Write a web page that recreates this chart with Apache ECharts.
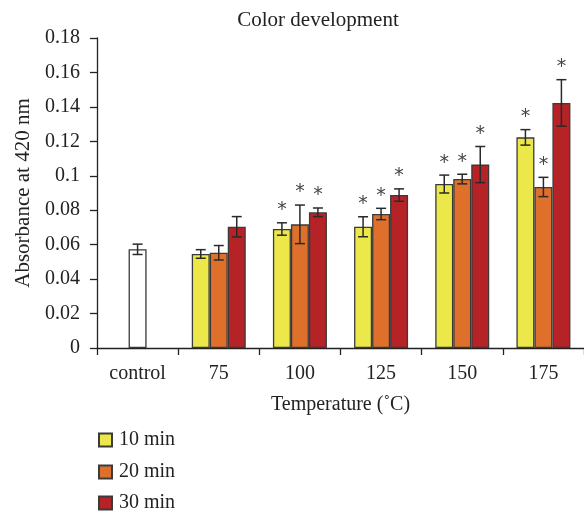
<!DOCTYPE html>
<html>
<head>
<meta charset="utf-8">
<script src="https://cdn.jsdelivr.net/npm/echarts@6/dist/echarts.min.js"></script>
<style>
html,body{margin:0;padding:0;background:#fff;}
#chart{width:584px;height:513px;}
</style>
</head>
<body>
<div id="chart"></div>
<script>
var categories = ['control', '75', '100', '125', '150', '175'];
var seriesNames = ['10 min', '20 min', '30 min'];
// index 0 of the 20-min list holds the control value (drawn white, centred)
var values10 = [null, 0.0546, 0.0691, 0.0704, 0.0952, 0.1223];
var values20 = [0.0573, 0.0553, 0.0718, 0.0778, 0.0981, 0.0935];
var values30 = [null, 0.0704, 0.0788, 0.0888, 0.1065, 0.1423];
var errors10 = [null, 0.0025, 0.0036, 0.0058, 0.0052, 0.0045];
var errors20 = [0.0030, 0.0042, 0.0112, 0.0033, 0.0028, 0.0056];
var errors30 = [null, 0.0059, 0.0025, 0.0036, 0.0105, 0.0135];
var stars10 = [false, false, true, true, true, true];
var stars20 = [false, false, true, true, true, true];
var stars30 = [false, false, true, true, true, true];
var yTicks = [0, 0.02, 0.04, 0.06, 0.08, 0.1, 0.12, 0.14, 0.16, 0.18];

var colors = ['#ECE84A', '#DF702C', '#B52327'];
var FONT = 'Liberation Serif';
var BAR_W = 18;

var allValues = [values10, values20, values30];
var allErrors = [errors10, errors20, errors30];
var allStars = [stars10, stars20, stars30];

var errData = [];
for (var s = 0; s < 3; s++) {
  for (var i = 0; i < categories.length; i++) {
    if (allValues[s][i] != null) {
      errData.push([i, s, allValues[s][i], allErrors[s][i], allStars[s][i] ? 1 : 0]);
    }
  }
}

var barSeries = seriesNames.map(function (name, s) {
  return {
    name: name,
    type: 'bar',
    barWidth: BAR_W,
    barGap: '0%',
    data: allValues[s].map(function (v, i) {
      if (v == null) return '-';
      if (s === 1 && i === 0) return { value: v, itemStyle: { color: '#ffffff' } };
      return v;
    }),
    itemStyle: { color: colors[s], borderColor: '#3a3a3a', borderWidth: 1.3 },
    emphasis: { disabled: true },
    z: 2
  };
});

var errSeries = {
  type: 'custom',
  data: errData,
  z: 5,
  silent: true,
  renderItem: function (params, api) {
    var cat = api.value(0), s = api.value(1), v = api.value(2), e = api.value(3), star = api.value(4);
    var cx = api.coord([cat, 0])[0] + (s - 1) * BAR_W;
    var top = api.coord([cat, v + e])[1];
    var bot = api.coord([cat, v - e])[1];
    var cap = 5;
    var st = { stroke: '#2a2a2a', lineWidth: 1.5 };
    var children = [
      { type: 'line', shape: { x1: cx, y1: top, x2: cx, y2: bot }, style: st },
      { type: 'line', shape: { x1: cx - cap, y1: top, x2: cx + cap, y2: top }, style: st },
      { type: 'line', shape: { x1: cx - cap, y1: bot, x2: cx + cap, y2: bot }, style: st }
    ];
    if (star) {
      children.push({
        type: 'text',
        style: {
          text: '*', x: cx, y: top - 3,
          textAlign: 'center', textVerticalAlign: 'bottom',
          fontFamily: 'DejaVu Sans', fontSize: 19, fill: '#444'
        }
      });
    }
    return { type: 'group', children: children };
  }
};

var legendTops = [430, 462, 493];
var legends = seriesNames.map(function (name, s) {
  return {
    data: [name],
    left: 98, top: legendTops[s],
    padding: 0,
    itemWidth: 13, itemHeight: 13,
    icon: 'rect',
    selectedMode: false,
    textStyle: { fontFamily: FONT, fontSize: 20, color: '#222', padding: [0, 0, 0, 2] }
  };
});

var chart = echarts.init(document.getElementById('chart'), null, { renderer: 'canvas' });
chart.setOption({
  animation: false,
  backgroundColor: '#ffffff',
  graphic: [{
    type: 'text',
    x: 318, y: 20,
    style: {
      text: 'Color development', textAlign: 'center', textVerticalAlign: 'middle',
      fontFamily: FONT, fontSize: 21, fill: '#222'
    }
  }],
  legend: legends,
  grid: { left: 97, top: 38, width: 494, height: 310, containLabel: false },
  xAxis: {
    type: 'category',
    data: categories,
    name: 'Temperature (˚C)',
    nameLocation: 'middle',
    nameGap: 47,
    nameTextStyle: { fontFamily: FONT, fontSize: 20, color: '#222' },
    axisLine: { lineStyle: { color: '#222', width: 1.3 } },
    axisTick: { show: true, length: 7, lineStyle: { color: '#222', width: 1.3 } },
    axisLabel: { fontFamily: FONT, fontSize: 20, color: '#222', margin: 16 },
    splitLine: { show: false }
  },
  yAxis: {
    type: 'value',
    min: 0, max: 0.18, interval: 0.02,
    name: 'Absorbance at 420 nm',
    nameLocation: 'middle',
    nameGap: 60,
    nameTextStyle: { fontFamily: FONT, fontSize: 21, color: '#222' },
    axisLine: { show: true, lineStyle: { color: '#222', width: 1.3 } },
    axisTick: { show: true, length: 7, lineStyle: { color: '#222', width: 1.3 } },
    axisLabel: {
      fontFamily: FONT, fontSize: 20, color: '#222', margin: 17,
      formatter: function (v) {
        var t = yTicks.filter(function (k) { return Math.abs(k - v) < 1e-9; });
        return t.length ? String(t[0]) : '';
      }
    },
    splitLine: { show: false }
  },
  series: barSeries.concat([errSeries])
});
</script>
</body>
</html>
